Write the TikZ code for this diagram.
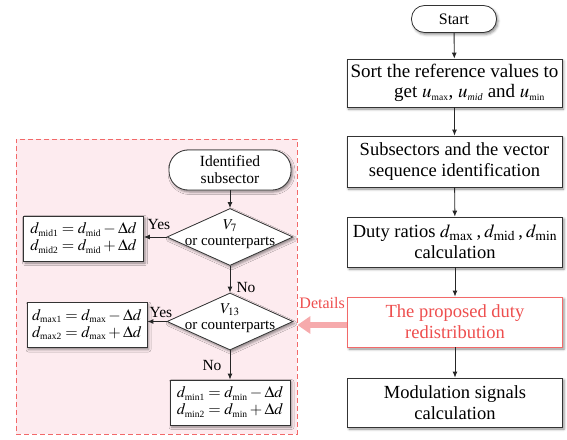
\documentclass[tikz,border=0pt]{standalone}
\usepackage{amsmath}
\usepackage{mathptmx}
\usepackage{fontspec}
\setmainfont{Liberation Serif}
\usetikzlibrary{arrows.meta,shapes.geometric,shadows.blur}
\definecolor{redtxt}{RGB}{238,78,78}
\definecolor{redline}{RGB}{242,105,105}
\definecolor{panelfill}{RGB}{253,235,239}
\definecolor{pinkarrow}{RGB}{246,170,172}
\newcommand{\sbx}[1]{\text{\fontsize{9.5}{9.5}\selectfont #1}}
\newcommand{\sbxi}[1]{\text{\fontsize{10}{10}\selectfont\itshape #1}}
\tikzset{
  shad/.style={blur shadow={shadow xshift=1.5pt, shadow yshift=-2pt, shadow blur radius=2.5pt, shadow opacity=45}},
  mainbox/.style={draw=black!80, line width=0.8pt, fill=white, shad, minimum width=215pt, minimum height=49pt, align=center, inner sep=1pt, font=\fontsize{18.5}{21}\selectfont},
  redbox/.style={mainbox, draw=redline, text=redtxt},
  term/.style={draw=black!80, line width=0.8pt, fill=white, shad, rounded corners=13pt, minimum width=85pt, minimum height=27pt, align=center, inner sep=1pt, font=\fontsize{16}{19}\selectfont},
  term2/.style={term, rounded corners=19pt, minimum width=122pt, minimum height=40pt, font=\fontsize{15.5}{17}\selectfont},
  dia/.style={diamond, draw=black!80, line width=0.8pt, fill=white, shad, minimum width=126pt, minimum height=57pt, inner sep=0pt},
  diatext/.style={align=center, font=\fontsize{15}{15.5}\selectfont, inner sep=0pt},
  eqbox/.style={draw=black!80, line width=0.8pt, fill=white, shad, minimum width=120pt, minimum height=45pt, inner sep=1pt, font=\fontsize{16}{18}\selectfont},
  arr/.style={draw=black!85, line width=0.9pt, -{Latex[length=6pt,width=5pt]}},
  lbl/.style={font=\fontsize{15.5}{17}\selectfont, inner sep=0pt},
}
\begin{document}
\begin{tikzpicture}[x=1pt,y=-1pt]
\useasboundingbox (0,0) rectangle (567,439);
% left panel
\node[draw=redline, dash pattern=on 5pt off 3pt, line width=0.8pt, fill=panelfill, minimum width=281pt, minimum height=295pt, inner sep=0pt] (panel) at (156.5,286.5) {};
% right column
\node[term] (start) at (454,19) {Start};
\node[mainbox, minimum height=48pt, font=\fontsize{19}{20.5}\selectfont] (sort) at (454.5,83) {\makebox[200pt]{Sort the reference values to}\\ \makebox[200pt]{\hspace*{30pt}get $u_{\sbx{max}}$, $u_{\sbxi{mid}}$ and $u_{\sbx{min}}$}};
\node[mainbox, minimum height=51pt] (sub) at (454.5,161.5) {Subsectors and the vector\\sequence identification};
\node[mainbox, minimum height=50pt] (duty) at (455,242) {Duty ratios $d_{\max}$\,,\,$d_{\mathrm{mid}}$\,,\,$d_{\min}$\\calculation};
\node[redbox, minimum height=50pt] (prop) at (455,322) {The proposed duty\\redistribution};
\node[mainbox, minimum height=49pt] (mod) at (455,402.5) {Modulation signals\\calculation};
\draw[arr] (start) -- (sort);
\draw[arr] (sort) -- (sub);
\draw[arr] (sub) -- (duty);
\draw[arr] (duty) -- (prop);
\draw[arr] (prop) -- (mod);
% details arrow
\draw[pinkarrow, line width=6pt, -{Triangle[length=13pt,width=17pt]}] ([yshift=-3pt]prop.west) -- ([yshift=-3pt]prop.west -| panel.east);
\node[text=redtxt, font=\fontsize{16}{17}\selectfont, anchor=east, inner sep=0pt] (det) at (345,303) {Details};
% left flow
\node[term2] (ident) at (230,170) {Identified\\subsector};
\node[dia] (v7) at (230,237) {};
\node[diatext] (v7t) at (230,234) {$V_7$\\or counterparts};
\node[dia] (v13) at (230,321.5) {};
\node[diatext] (v13t) at (230,318) {$V_{13}$\\or counterparts};
\node[eqbox] (dmid) at (83.5,238.5) {$\begin{aligned} d_{\sbx{mid1}} &= d_{\sbx{mid}} - \Delta d\\[-4pt] d_{\sbx{mid2}} &= d_{\sbx{mid}} + \Delta d\end{aligned}$};
\node[eqbox] (dmax) at (87,325) {$\begin{aligned} d_{\sbx{max1}} &= d_{\sbx{max}} - \Delta d\\[-4pt] d_{\sbx{max2}} &= d_{\sbx{max}} + \Delta d\end{aligned}$};
\node[eqbox] (dmin) at (230,402.5) {$\begin{aligned} d_{\sbx{min1}} &= d_{\sbx{min}} - \Delta d\\[-4pt] d_{\sbx{min2}} &= d_{\sbx{min}} + \Delta d\end{aligned}$};
\draw[arr] (ident) -- (v7);
\draw[arr] (v7.west) -- (v7.west -| dmid.east);
\draw[arr] (v7) -- (v13);
\draw[arr] (v13.west) -- (v13.west -| dmax.east);
\draw[arr] (v13) -- (dmin);
\node[lbl] (y1) at (159,224) {Yes};
\node[lbl] (y2) at (161,312) {Yes};
\node[lbl] (n1) at (246,287) {No};
\node[lbl] (n2) at (212,365) {No};
\end{tikzpicture}
\end{document}
